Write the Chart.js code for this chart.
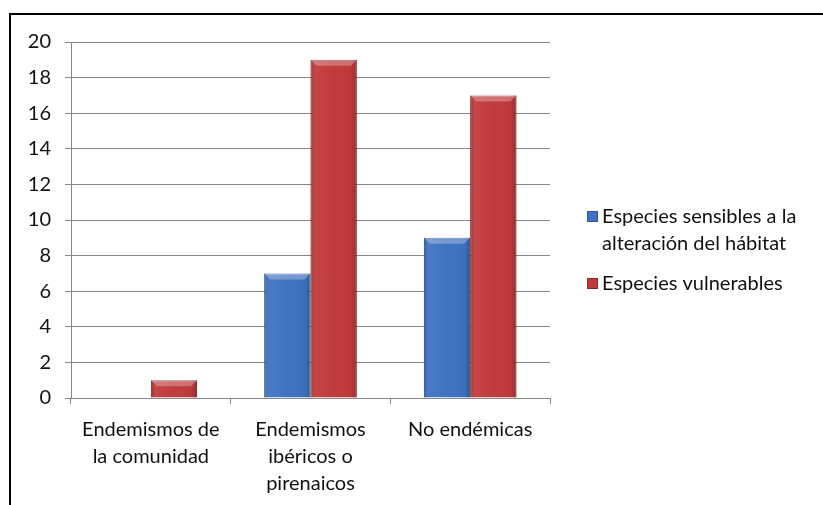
<!DOCTYPE html>
<html>
<head>
<meta charset="utf-8">
<script src="https://cdn.jsdelivr.net/npm/chart.js@4"></script>
<style>
  html, body { margin: 0; padding: 0; background: #fff; }
  #wrap { width: 823px; height: 505px; position: relative; }
</style>
</head>
<body>
<div id="wrap"><canvas id="chart" width="823" height="505"></canvas></div>
<script>
const categories = [
    ['Endemismos de', 'la comunidad'],
    ['Endemismos', 'ibéricos o', 'pirenaicos'],
    ['No endémicas']
];
const sensibles = [0, 7, 9];
const vulnerables = [1, 19, 17];
const seriesNames = ['Especies sensibles a la alteración del hábitat', 'Especies vulnerables'];
const legendLines = [['Especies sensibles a la', 'alteración del hábitat'], ['Especies vulnerables']];
const yTicks = [0, 2, 4, 6, 8, 10, 12, 14, 16, 18, 20];

const FONT = 'Lato, "Open Sans", sans-serif';
const blue = '#3F72C2';
const red = '#C03A3B';

// frame around the chart (goes past the right/bottom edges like the original)
const framePlugin = {
    id: 'frame',
    beforeDraw(chart) {
        const ctx = chart.ctx;
        ctx.save();
        ctx.fillStyle = '#fff';
        ctx.fillRect(0, 0, chart.width, chart.height);
        ctx.strokeStyle = '#000';
        ctx.lineWidth = 2;
        ctx.strokeRect(10, 14, 840, 600);
        ctx.restore();
    }
};

// bevel look on the bars: darker sides, light top edge
const bevelPlugin = {
    id: 'bevel',
    afterDatasetsDraw(chart) {
        const ctx = chart.ctx;
        ctx.save();
        chart.data.datasets.forEach((ds, i) => {
            chart.getDatasetMeta(i).data.forEach(bar => {
                const { x, y, base, width } = bar.getProps(['x', 'y', 'base', 'width']);
                const h = base - y;
                if (h < 1) return;
                const l = x - width / 2, r = x + width / 2;
                const g = ctx.createLinearGradient(l, 0, r, 0);
                g.addColorStop(0, 'rgba(0,0,0,0.18)');
                g.addColorStop(0.12, 'rgba(255,255,255,0.06)');
                g.addColorStop(0.5, 'rgba(255,255,255,0)');
                g.addColorStop(0.88, 'rgba(0,0,0,0.04)');
                g.addColorStop(1, 'rgba(0,0,0,0.22)');
                ctx.fillStyle = g;
                ctx.fillRect(l, y, width, h);
                const b = Math.min(6, h / 2);
                ctx.fillStyle = 'rgba(255,255,255,0.28)';
                ctx.beginPath();
                ctx.moveTo(l, y);
                ctx.lineTo(r, y);
                ctx.lineTo(r - b, y + b);
                ctx.lineTo(l + b, y + b);
                ctx.closePath();
                ctx.fill();
            });
        });
        ctx.restore();
    }
};

// legend on the right with wrapped text
const sideLegend = {
    id: 'sideLegend',
    afterDraw(chart) {
        const ctx = chart.ctx;
        ctx.save();
        ctx.font = '20px ' + FONT;
        ctx.textBaseline = 'middle';
        let y = 217;
        chart.data.datasets.forEach((ds, i) => {
            ctx.fillStyle = ds.backgroundColor;
            ctx.fillRect(587, y - 6, 11, 11);
            ctx.strokeStyle = ds.borderColor;
            ctx.lineWidth = 1;
            ctx.strokeRect(587.5, y - 5.5, 10, 10);
            ctx.fillStyle = '#111';
            legendLines[i].forEach((line, j) => {
                ctx.fillText(line, 602, y + j * 27);
            });
            y += legendLines[i].length * 27 + 13;
        });
        ctx.restore();
    }
};

new Chart(document.getElementById('chart'), {
    type: 'bar',
    data: {
        labels: categories,
        datasets: [{
            label: seriesNames[0],
            data: sensibles,
            backgroundColor: blue,
            borderColor: '#2c569a',
            borderWidth: 1,
            barPercentage: 1,
            categoryPercentage: 0.58
        }, {
            label: seriesNames[1],
            data: vulnerables,
            backgroundColor: red,
            borderColor: '#8e2a2a',
            borderWidth: 1,
            barPercentage: 1,
            categoryPercentage: 0.58
        }]
    },
    options: {
        responsive: false,
        animation: false,
        layout: { padding: { left: 0, top: 42, right: 273, bottom: 0 } },
        plugins: {
            legend: { display: false },
            tooltip: { enabled: false }
        },
        scales: {
            x: {
                grid: { display: true, drawOnChartArea: false, color: '#888', tickLength: 6, offset: true },
                border: { color: '#888', width: 1 },
                ticks: { color: '#111', font: { family: FONT, size: 20, lineHeight: 1.35 }, padding: 12, maxRotation: 0 },
                afterFit(scale) { scale.height = 107; }
            },
            y: {
                min: 0,
                max: 20,
                afterBuildTicks(scale) { scale.ticks = yTicks.map(v => ({ value: v })); },
                grid: { color: '#888', tickLength: 6 },
                border: { color: '#888', width: 1 },
                ticks: { color: '#111', font: { family: FONT, size: 20 }, padding: 14 },
                afterFit(scale) { scale.width = 71; }
            }
        }
    },
    plugins: [framePlugin, bevelPlugin, sideLegend]
});
</script>
</body>
</html>
